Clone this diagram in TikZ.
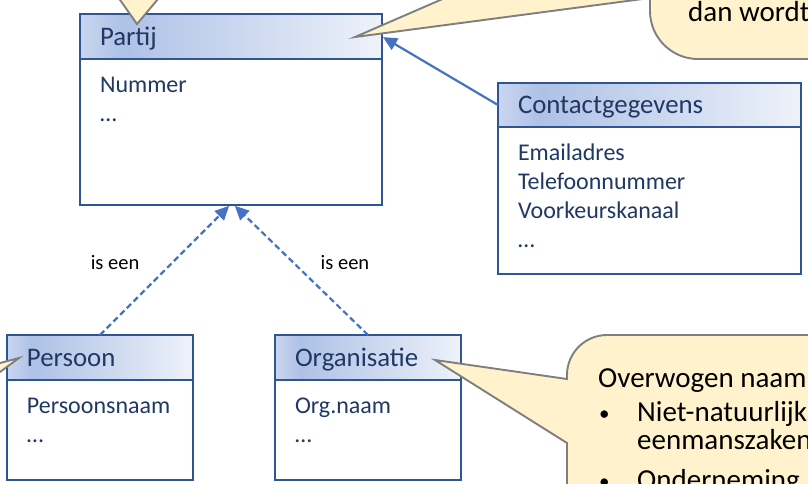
\documentclass[tikz,border=0pt]{standalone}
\usepackage{fontspec}
\setmainfont{Carlito}
\usetikzlibrary{arrows.meta}
\definecolor{boxline}{HTML}{2F5597}
\definecolor{boxtext}{HTML}{203864}
\definecolor{conn}{HTML}{4472C4}
\definecolor{callfill}{HTML}{FFF2CC}
\definecolor{callline}{HTML}{7F7F7F}
\definecolor{hdrA}{HTML}{C9D6EE}
\definecolor{hdrB}{HTML}{AEC1E6}
\definecolor{hdrC}{HTML}{EEF2FA}
\pgfdeclarehorizontalshading{hdrshade}{100bp}{color(0bp)=(hdrA); color(25bp)=(hdrA); color(32bp)=(hdrB); color(75bp)=(hdrC); color(100bp)=(hdrC)}
\newcommand{\hdrfont}{\fontsize{26.8}{29}\selectfont}
\newcommand{\boxfont}{\fontsize{24}{29}\selectfont}
\newcommand{\callfont}{\fontsize{29}{28}\selectfont}
\newcommand{\attrlist}[3]{\begin{minipage}[c][#1pt][t]{#2pt}\boxfont\rule{0pt}{33pt}#3\end{minipage}}
\begin{document}
\begin{tikzpicture}[x=1pt,y=-1pt,
  classhdr/.style={draw=boxline, line width=2.4pt, shading=hdrshade, anchor=north west,
    outer sep=0pt, inner xsep=20pt, inner ysep=0pt, text height=19pt, text depth=2pt,
    text=boxtext, font=\hdrfont, align=left},
  classbody/.style={draw=boxline, line width=2.4pt, fill=white, anchor=north west,
    outer sep=0pt, inner xsep=20pt, inner ysep=0pt, text=boxtext},
  assoc/.style={draw=conn, line width=2.2pt, -{Triangle[length=14pt,width=13pt]}, shorten >=1.2pt},
  isa/.style={assoc, dash pattern=on 6pt off 3.5pt},
  isalbl/.style={font=\fontsize{20.5}{24}\selectfont, text=black, inner sep=0pt},
  callout/.style={fill=callfill, draw=callline, line width=1.9pt, line join=miter},
  calltext/.style={font=\callfont, text=black, anchor=base west, inner sep=0pt},
  bullet/.style={calltext, font=\fontsize{21}{24}\selectfont}]
\useasboundingbox (0,0) rectangle (808,483);
\fill[white] (0,0) rectangle (808,483);
\clip (0,0) rectangle (808,483);

% Partij
\node[classhdr, text width=262pt, minimum height=45pt] (partijh) at (80,14) {Partij};
\node[classbody] (partijb) at (partijh.south west) {\attrlist{146}{262}{Nummer\\…}};

% Contactgegevens
\node[classhdr, text width=263pt, minimum height=44pt] (contacth) at (498,83) {Contactgegevens};
\node[classbody] (contactb) at (contacth.south west) {\attrlist{147}{263}{Emailadres\\Telefoonnummer\\Voorkeurskanaal\\…}};

% Persoon
\node[classhdr, text width=146pt, minimum height=45pt] (persoonh) at (7,335) {Persoon};
\node[classbody] (persoonb) at (persoonh.south west) {\attrlist{100}{146}{Persoonsnaam\\…}};

% Organisatie
\node[classhdr, text width=146pt, minimum height=45pt] (orgh) at (275,335) {Organisatie};
\node[classbody] (orgb) at (orgh.south west) {\attrlist{100}{146}{Org.naam\\…}};

% connectors
\draw[assoc] (contacth.west) -- (partijh.east);
\draw[isa] (persoonh.north) -- ([xshift=-1pt]partijb.south)
  node[isalbl, pos=0.554, xshift=-57pt] (lblpersoon) {is een};
\draw[isa] (orgh.north) -- ([xshift=3pt]partijb.south)
  node[isalbl, pos=0.56, xshift=52pt] (lblorg) {is een};

% callouts
\path[callout] (106,-20) -- (137,24) -- (174,-20) -- cycle;
\path[callout] (900,-200) -- (650,-200) -- (650,-91) -- (355,37) -- (650,-2) -- (650,11)
  arc[start angle=180, end angle=90, radius=48] -- (900,59) -- cycle;
\node[calltext] (dan) at (688,21) {dan wordt};
\path[callout] (-30,371) -- (19,358) -- (-30,394) -- cycle;
\path[callout] (900,600) -- (567,600) -- (567,443) -- (435,360) -- (567,379) -- (567,375)
  arc[start angle=180, end angle=270, radius=40] -- (900,335) -- cycle;
\node[calltext] (ov) at (598,387) {Overwogen naam};
\node[bullet] (b1) at (599,420) {•};
\node[calltext] (t1) at (637,421) {Niet-natuurlijk};
\node[calltext] (t2) at (637,449) {eenmanszaken};
\node[bullet] (b2) at (599,488) {•};
\node[calltext] (t3) at (637,489) {Onderneming};
\end{tikzpicture}
\end{document}
